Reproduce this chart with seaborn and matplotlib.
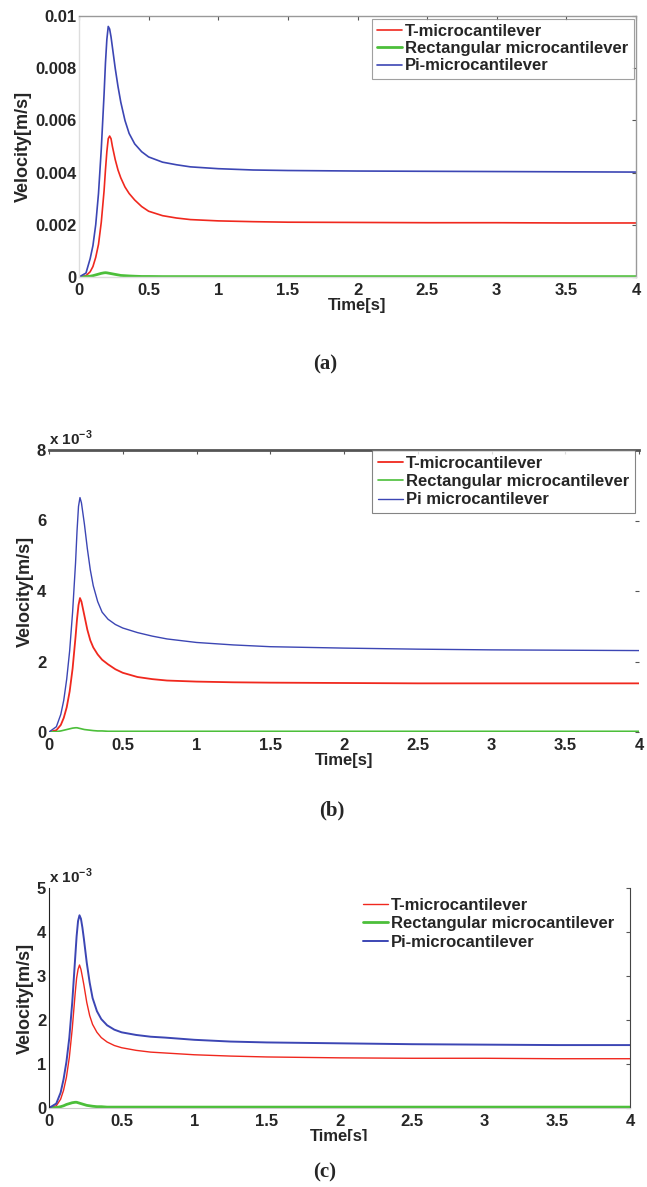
import numpy as np
import matplotlib
matplotlib.use("Agg")
import matplotlib.pyplot as plt
import seaborn as sns
from matplotlib.patches import Rectangle

# time axis shared by all three panels [s]
time = [0, 0.05, 0.08, 0.1, 0.12, 0.14, 0.16, 0.18, 0.19, 0.2, 0.21, 0.22, 0.23, 0.24, 0.26,
        0.28, 0.3, 0.33, 0.36, 0.4, 0.45, 0.5, 0.6, 0.7, 0.8, 1.0, 1.25, 1.5, 2.0, 2.5, 3.0, 3.5, 4.0]

# panel (a), values in 1e-3 m/s
a_t = [0, 0.05, 0.2, 0.4, 0.75, 1.25, 2.1, 3.3, 4.1, 4.8, 5.3, 5.4, 5.3, 5.0, 4.5,
       4.1, 3.8, 3.45, 3.2, 2.95, 2.7, 2.52, 2.35, 2.26, 2.2, 2.15, 2.12, 2.1, 2.09, 2.08, 2.08, 2.07, 2.07]
a_rect = [0, 0.01, 0.03, 0.05, 0.08, 0.11, 0.14, 0.16, 0.165, 0.16, 0.15, 0.14, 0.13, 0.12, 0.1,
          0.08, 0.06, 0.05, 0.04, 0.03, 0.02, 0.02, 0.015, 0.015, 0.015, 0.015, 0.015, 0.015, 0.015,
          0.015, 0.015, 0.015, 0.015]
a_pi = [0, 0.15, 0.7, 1.2, 2.0, 3.2, 4.9, 7.0, 8.2, 9.1, 9.6, 9.5, 9.2, 8.8, 8.0,
        7.3, 6.7, 6.0, 5.5, 5.1, 4.8, 4.6, 4.4, 4.3, 4.22, 4.15, 4.1, 4.08, 4.06, 4.05, 4.04, 4.03, 4.02]

# panel (b), values in 1e-3 m/s
b_t = [0, 0.05, 0.2, 0.4, 0.7, 1.15, 1.8, 2.7, 3.2, 3.6, 3.8, 3.7, 3.5, 3.3, 2.9,
       2.6, 2.4, 2.2, 2.05, 1.92, 1.78, 1.68, 1.56, 1.5, 1.46, 1.43, 1.41, 1.4, 1.39, 1.38, 1.38, 1.38, 1.38]
b_rect = [0, 0.01, 0.03, 0.05, 0.07, 0.09, 0.11, 0.12, 0.12, 0.11, 0.1, 0.09, 0.08, 0.07, 0.06,
          0.05, 0.04, 0.03, 0.03, 0.02, 0.02, 0.02, 0.02, 0.02, 0.02, 0.02, 0.02, 0.02, 0.02, 0.02,
          0.02, 0.02, 0.02]
b_pi = [0, 0.15, 0.5, 0.9, 1.5, 2.3, 3.4, 4.8, 5.7, 6.4, 6.65, 6.5, 6.2, 5.9, 5.2,
        4.6, 4.15, 3.7, 3.4, 3.2, 3.05, 2.95, 2.82, 2.72, 2.64, 2.54, 2.47, 2.42, 2.38, 2.35, 2.33, 2.32, 2.31]

# panel (c), values in 1e-3 m/s
c_t = [0, 0.05, 0.2, 0.4, 0.7, 1.15, 1.8, 2.6, 2.95, 3.15, 3.25, 3.15, 2.98, 2.8, 2.4,
       2.1, 1.9, 1.72, 1.6, 1.5, 1.42, 1.37, 1.31, 1.27, 1.25, 1.21, 1.18, 1.16, 1.14, 1.13, 1.13, 1.12, 1.12]
c_rect = [0, 0.01, 0.03, 0.05, 0.08, 0.1, 0.12, 0.13, 0.13, 0.12, 0.11, 0.1, 0.09, 0.08, 0.06,
          0.05, 0.04, 0.03, 0.03, 0.02, 0.02, 0.02, 0.02, 0.02, 0.02, 0.02, 0.02, 0.02, 0.02, 0.02,
          0.02, 0.02, 0.02]
c_pi = [0, 0.1, 0.35, 0.65, 1.05, 1.6, 2.4, 3.4, 3.9, 4.25, 4.38, 4.3, 4.1, 3.85, 3.3,
        2.85, 2.5, 2.2, 2.02, 1.88, 1.78, 1.72, 1.66, 1.62, 1.6, 1.55, 1.51, 1.49, 1.47, 1.45, 1.44, 1.43, 1.43]

x_ticks = [0, 0.5, 1, 1.5, 2, 2.5, 3, 3.5, 4]
x_ticklabels = ["0", "0.5", "1", "1.5", "2", "2.5", "3", "3.5", "4"]
a_yticks = [0, 0.002, 0.004, 0.006, 0.008, 0.01]
a_yticklabels = ["0", "0.002", "0.004", "0.006", "0.008", "0.01"]
b_yticks = [0, 2, 4, 6, 8]
c_yticks = [0, 1, 2, 3, 4, 5]

labels_a = ["T-microcantilever", "Rectangular microcantilever", "Pi-microcantilever"]
labels_b = ["T-microcantilever", "Rectangular microcantilever", "Pi microcantilever"]
labels_c = ["T-microcantilever", "Rectangular microcantilever", "Pi-microcantilever"]

RED = "#f0281e"
GREEN = "#4cbf3a"
BLUE = "#3c46b4"

sns.set_style("white")
plt.rcParams["font.family"] = ["Liberation Sans", "DejaVu Sans"]
plt.rcParams["font.weight"] = "bold"
plt.rcParams["mathtext.fontset"] = "custom"
plt.rcParams["mathtext.rm"] = "Liberation Sans:bold"
plt.rcParams["mathtext.bf"] = "Liberation Sans:bold"

W, H = 647, 1187
fig = plt.figure(figsize=(W / 100, H / 100), dpi=100)
fig.patch.set_facecolor("white")


def px_axes(left, right, top, bottom):
    return fig.add_axes([left / W, 1 - bottom / H, (right - left) / W, (bottom - top) / H])


def draw_panel(ax, series, labels, lws, yticks, yticklabels, ylim):
    handles = []
    for vals, lab, col, lw in zip(series, labels, [RED, GREEN, BLUE], lws):
        sns.lineplot(x=time, y=vals, color=col, linewidth=lw, ax=ax, label=lab, legend=False)
        handles.append(ax.lines[-1])
    ax.set_xlim(0, 4)
    ax.set_ylim(*ylim)
    ax.set_xticks(x_ticks)
    ax.set_xticklabels(x_ticklabels)
    ax.set_yticks(yticks)
    ax.set_yticklabels(yticklabels)
    ax.tick_params(direction="in", length=3, width=0.8, labelsize=12,
                   top=True, right=True, color="#555555")
    ax.tick_params(axis="x", pad=4)
    ax.tick_params(axis="y", pad=2)
    for lab in ax.get_xticklabels() + ax.get_yticklabels():
        lab.set_fontweight("bold")
    ax.set_xlabel("Time[s]", fontsize=12, fontweight="bold", labelpad=0)
    ax.set_ylabel("Velocity[m/s]", fontsize=13, fontweight="bold", labelpad=2)
    return handles


def bold_legend(leg):
    for t in leg.get_texts():
        t.set_fontweight("bold")


# ---- panel (a)
ax_a = px_axes(79, 636, 16, 277)
a_series = [np.array(a_t) * 1e-3, np.array(a_rect) * 1e-3, np.array(a_pi) * 1e-3]
h = draw_panel(ax_a, a_series, labels_a, [1.2, 2.0, 1.2], a_yticks, a_yticklabels, (0, 0.01))
for side, col in [("top", "#999999"), ("right", "#999999"), ("left", "#dddddd"), ("bottom", "#dddddd")]:
    ax_a.spines[side].set_color(col)
    ax_a.spines[side].set_linewidth(1.0)
leg = ax_a.legend(handles=h, labels=labels_a, loc="upper right", fontsize=12, frameon=True,
                  fancybox=False, edgecolor="#888888", borderaxespad=0.15, handlelength=1.5,
                  handletextpad=0.2, labelspacing=0.15, borderpad=0.3)
leg.get_frame().set_linewidth(0.8)
bold_legend(leg)
fig.text(325 / W, 1 - 364 / H, "(a)", ha="center", va="center", fontsize=15,
         fontweight="bold", family="Liberation Serif")

# ---- panel (b)
ax_b = px_axes(49, 639, 450, 732)
h = draw_panel(ax_b, [b_t, b_rect, b_pi], labels_b, [1.3, 1.2, 1.0], b_yticks,
               [str(v) for v in b_yticks], (0, 8))
ax_b.spines["top"].set_color("#555555")
ax_b.spines["top"].set_linewidth(2.0)
for side in ["left", "right", "bottom"]:
    ax_b.spines[side].set_visible(False)
leg = ax_b.legend(handles=h, labels=labels_b, loc="upper right", fontsize=12, frameon=True,
                  fancybox=False, edgecolor="#666666", borderaxespad=0.0, handlelength=1.5,
                  handletextpad=0.2, labelspacing=0.2, borderpad=0.35,
                  bbox_to_anchor=(0.9935, 1.0))
leg.get_frame().set_linewidth(0.8)
bold_legend(leg)
ax_b.text(0.0, 1.008, r"x 10$^{\mathbf{-3}}$", transform=ax_b.transAxes, ha="left", va="bottom",
          fontsize=11, fontweight="bold")
fig.text(332 / W, 1 - 810 / H, "(b)", ha="center", va="center", fontsize=15,
         fontweight="bold", family="Liberation Serif")

# ---- panel (c)
ax_c = px_axes(49, 630, 888, 1108)
h = draw_panel(ax_c, [c_t, c_rect, c_pi], labels_c, [1.0, 2.0, 1.4], c_yticks,
               [str(v) for v in c_yticks], (0, 5))
ax_c.spines["top"].set_visible(False)
ax_c.spines["left"].set_color("#222222")
ax_c.spines["right"].set_color("#444444")
ax_c.spines["bottom"].set_color("#cccccc")
ax_c.tick_params(top=False)
leg = ax_c.legend(handles=h, labels=labels_c, loc="upper right", fontsize=12, frameon=False,
                  borderaxespad=0.0, handlelength=1.5, handletextpad=0.2, labelspacing=0.2,
                  bbox_to_anchor=(0.985, 0.985))
bold_legend(leg)
ax_c.text(0.0, 1.01, r"x 10$^{\mathbf{-3}}$", transform=ax_c.transAxes, ha="left", va="bottom",
          fontsize=11, fontweight="bold")
# the x label of (c) is half cut off in the source picture
fig.add_artist(Rectangle((200 / W, 1 - 1160 / H), 250 / W, 19 / H, transform=fig.transFigure,
                         facecolor="white", edgecolor="none", zorder=10))
fig.text(325 / W, 1 - 1172 / H, "(c)", ha="center", va="center", fontsize=15,
         fontweight="bold", family="Liberation Serif", zorder=11)

fig.savefig("out.png", dpi=100, facecolor="white")
